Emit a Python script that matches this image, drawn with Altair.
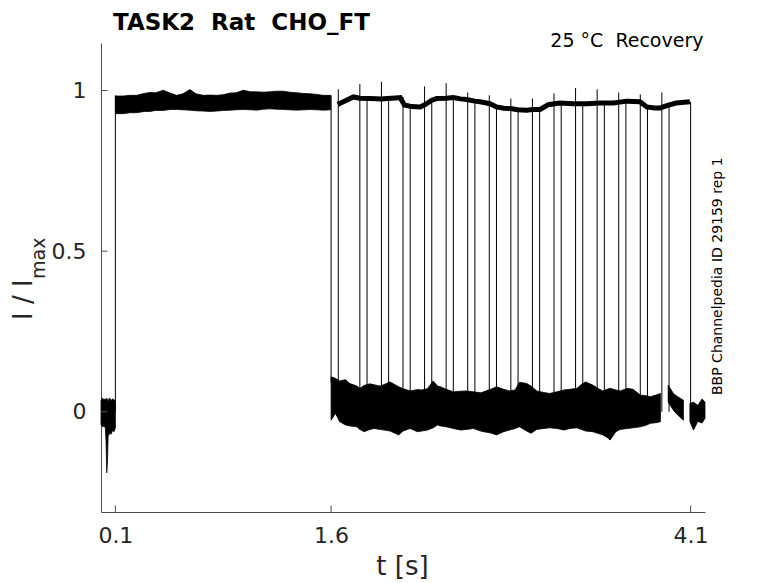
import altair as alt
import pandas as pd

# ---------------- text ----------------
NB = "\u00a0"
TITLE = "TASK2" + NB + NB + "Rat" + NB + NB + "CHO_FT"
CONDITION = "25" + NB + "°C" + NB + NB + "Recovery"
SIDE_NOTE = "BBP Channelpedia ID 29159 rep 1"
X_TITLE = "t [s]"
Y_TITLE_MAIN = "I / I"
Y_TITLE_SUB = "max"

X_TICKS = [0.1, 1.6, 4.1]
Y_TICKS = [0, 0.5, 1]
X_DOMAIN = [0, 4.2]
Y_DOMAIN = [-0.312, 1.148]

# ---------------- data ----------------
# holding current before the conditioning pulse (envelope of the sweeps)
pre_t = [0.0, 0.01, 0.02, 0.03, 0.035, 0.04, 0.045, 0.05, 0.055, 0.06, 0.07, 0.08, 0.09, 0.1]
pre_hi = [0.035, 0.043, 0.038, 0.040, 0.036, 0.042, 0.038, 0.030, 0.040, 0.043, 0.035, 0.040, 0.038, 0.032]
pre_lo = [-0.040, -0.047, -0.045, -0.050, -0.090, -0.190, -0.150, -0.070, -0.073, -0.065, -0.070, -0.058, -0.062, -0.050]

# conditioning pulse envelope (0.1 s - 1.6 s)
cond_t = [0.10, 0.155, 0.20, 0.248, 0.30, 0.341, 0.38, 0.434, 0.48, 0.526, 0.57, 0.619, 0.66,
          0.712, 0.76, 0.804, 0.85, 0.897, 0.94, 0.99, 1.04, 1.082, 1.13, 1.175, 1.22, 1.268,
          1.31, 1.36, 1.41, 1.453, 1.50, 1.546, 1.597]
cond_hi = [0.983, 0.983, 0.985, 0.985, 0.991, 0.994, 0.993, 1.001, 0.992, 0.985, 0.990, 1.003, 0.990,
           0.985, 0.986, 0.985, 0.987, 0.992, 0.993, 1.001, 0.996, 0.996, 0.995, 0.996, 0.998, 0.998,
           0.995, 0.993, 0.991, 0.990, 0.988, 0.985, 0.985]
cond_lo = [0.928, 0.928, 0.931, 0.931, 0.935, 0.935, 0.938, 0.938, 0.941, 0.941, 0.940, 0.939, 0.937,
           0.936, 0.935, 0.936, 0.938, 0.939, 0.940, 0.941, 0.940, 0.939, 0.942, 0.943, 0.942, 0.941,
           0.940, 0.939, 0.940, 0.941, 0.940, 0.939, 0.940]

# inactivated (low) current band of the sweeps not yet recovered
low_t = [1.60, 1.63, 1.66, 1.70, 1.73, 1.78, 1.80, 1.83, 1.87, 1.90, 1.94, 1.97, 2.01, 2.07, 2.10,
         2.15, 2.20, 2.23, 2.27, 2.31, 2.34, 2.36, 2.40, 2.45, 2.50, 2.54, 2.59, 2.64, 2.66, 2.71,
         2.75, 2.80, 2.84, 2.88, 2.91, 2.96, 2.99, 3.03, 3.08, 3.12, 3.17, 3.22, 3.26, 3.31, 3.34,
         3.37, 3.42, 3.46, 3.49, 3.52, 3.54, 3.58, 3.61, 3.66, 3.70, 3.75, 3.79, 3.82, 3.86, 3.89]
low_hi = [0.109, 0.104, 0.096, 0.100, 0.088, 0.080, 0.073, 0.082, 0.087, 0.084, 0.080, 0.085, 0.093, 0.078, 0.072,
          0.065, 0.069, 0.068, 0.072, 0.096, 0.080, 0.078, 0.070, 0.062, 0.064, 0.065, 0.062, 0.059, 0.062, 0.070,
          0.078, 0.070, 0.065, 0.068, 0.092, 0.088, 0.080, 0.065, 0.060, 0.057, 0.062, 0.068, 0.070, 0.073, 0.085,
          0.093, 0.083, 0.072, 0.065, 0.070, 0.073, 0.068, 0.065, 0.073, 0.070, 0.052, 0.050, 0.047, 0.052, 0.057]
low_lo = [-0.026, -0.005, -0.031, -0.041, -0.044, -0.047, -0.055, -0.062, -0.055, -0.052, -0.055, -0.057, -0.060, -0.072, -0.060,
          -0.052, -0.062, -0.060, -0.057, -0.050, -0.041, -0.044, -0.047, -0.052, -0.057, -0.055, -0.052, -0.060, -0.062, -0.066,
          -0.072, -0.062, -0.057, -0.052, -0.047, -0.060, -0.067, -0.055, -0.052, -0.050, -0.052, -0.057, -0.052, -0.050, -0.055,
          -0.060, -0.062, -0.068, -0.072, -0.080, -0.088, -0.062, -0.055, -0.052, -0.050, -0.047, -0.042, -0.036, -0.034, -0.031]

# two short low segments near the end
tailA_t = [3.944, 3.98, 4.01, 4.05]
tailA_hi = [0.083, 0.057, 0.047, 0.036]
tailA_lo = [0.030, 0.005, -0.010, -0.026]
tailB_t = [4.095, 4.12, 4.15, 4.18, 4.20]
tailB_hi = [0.026, 0.030, 0.020, 0.040, 0.030]
tailB_lo = [-0.031, -0.057, -0.030, -0.035, -0.020]

# recovered current trace
rec_t = [1.646, 1.70, 1.755, 1.80, 1.87, 1.95, 1.99, 2.05, 2.08, 2.11, 2.16, 2.22, 2.26, 2.30, 2.334,
         2.40, 2.45, 2.50, 2.543, 2.60, 2.636, 2.705, 2.75, 2.80, 2.844, 2.90, 2.96, 3.00, 3.053, 3.11,
         3.19, 3.25, 3.284, 3.378, 3.47, 3.563, 3.656, 3.748, 3.795, 3.85, 3.888, 3.94, 4.00, 4.095]
rec_v = [0.957, 0.968, 0.980, 0.976, 0.975, 0.974, 0.975, 0.977, 0.978, 0.955, 0.950, 0.949, 0.958, 0.970, 0.975,
         0.976, 0.978, 0.974, 0.972, 0.967, 0.965, 0.959, 0.949, 0.945, 0.944, 0.940, 0.939, 0.941, 0.941, 0.956,
         0.961, 0.960, 0.959, 0.959, 0.961, 0.961, 0.967, 0.965, 0.949, 0.946, 0.946, 0.954, 0.961, 0.965]

# step transitions (recovery test pulses)
rise_t = [1.65, 1.80, 1.95, 2.10, 2.25, 2.40, 2.55, 2.70, 2.85, 3.00, 3.15, 3.30, 3.45, 3.60, 3.75, 3.90]
rise_top = [1.004, 1.020, 1.027, 0.980, 1.013, 1.023, 0.994, 0.985, 0.975, 0.975, 0.991, 1.008, 1.004, 0.994, 0.988, 0.994]
fall_t = [1.85, 2.00, 2.15, 2.30, 2.45, 2.60, 2.75, 2.90, 3.05, 3.20, 3.35, 3.50, 3.65, 3.80, 3.95, 4.10]
fall_top = [0.975, 0.975, 0.951, 0.970, 0.978, 0.967, 0.949, 0.940, 0.941, 0.961, 0.959, 0.961, 0.967, 0.949, 0.954, 0.965]
edge_t = [0.1, 1.6]
edge_lo = [0.0, 0.09]
edge_hi = [0.985, 0.985]

# ---------------- tables ----------------
band_tables = [
    pd.DataFrame({"t": pre_t, "hi": pre_hi, "lo": pre_lo}),
    pd.DataFrame({"t": cond_t, "hi": cond_hi, "lo": cond_lo}),
    pd.DataFrame({"t": low_t, "hi": low_hi, "lo": low_lo}),
    pd.DataFrame({"t": tailA_t, "hi": tailA_hi, "lo": tailA_lo}),
    pd.DataFrame({"t": tailB_t, "hi": tailB_hi, "lo": tailB_lo}),
]

trace = pd.DataFrame({"t": rec_t, "v": rec_v})

steps = pd.concat([
    pd.DataFrame({"t": rise_t, "lo": [0.0] * len(rise_t), "hi": rise_top}),
    pd.DataFrame({"t": fall_t, "lo": [0.0] * len(fall_t), "hi": fall_top}),
    pd.DataFrame({"t": edge_t, "lo": edge_lo, "hi": edge_hi}),
], ignore_index=True)

xticks = pd.DataFrame({"t": X_TICKS})
yticks = pd.DataFrame({"v": Y_TICKS})

# ---------------- encodings ----------------
W, H = 604, 469
AXIS_COLOR = "#4d4d4d"
LABEL_COLOR = "#262626"
FONT = "DejaVu Sans"

xscale = alt.Scale(domain=X_DOMAIN, nice=False, zero=False)
yscale = alt.Scale(domain=Y_DOMAIN, nice=False, zero=False)
xaxis = alt.Axis(title="", values=X_TICKS, labelExpr="format(datum.value, '.2~f')", grid=False,
                 ticks=False, tickSize=0, labelPadding=30.7, labelBaseline="alphabetic",
                 labelFlush=False, labelOverlap=False,
                 labelFontSize=22, labelColor=LABEL_COLOR, labelFont=FONT,
                 domainColor=AXIS_COLOR, domainWidth=1)
yaxis = alt.Axis(title="", values=Y_TICKS, labelExpr="format(datum.value, '.2~f')", grid=False,
                 ticks=False, tickSize=0, labelPadding=15, labelFlush=False, labelOverlap=False,
                 labelFontSize=22, labelColor=LABEL_COLOR, labelFont=FONT,
                 domainColor=AXIS_COLOR, domainWidth=1)


def X(field):
    return alt.X(field, type="quantitative", scale=xscale, axis=xaxis)


def Y(field):
    return alt.Y(field, type="quantitative", scale=yscale, axis=yaxis, stack=False)


band_layers = [
    alt.Chart(tbl).mark_area(color="black", stroke="black", strokeWidth=0.8, opacity=1).encode(
        x=X("t"), y=Y("lo"), y2="hi"
    )
    for tbl in band_tables
]

trace_layer = alt.Chart(trace).mark_line(color="black", strokeWidth=5).encode(
    x=X("t"), y=Y("v")
)

step_layer = alt.Chart(steps).mark_rule(color="black", strokeWidth=1).encode(
    x=X("t"), y=Y("lo"), y2="hi"
)

xtick_layer = alt.Chart(xticks).mark_rule(color=AXIS_COLOR, strokeWidth=1).encode(
    x=X("t"), y=alt.value(H), y2=alt.value(H - 6.5)
)
ytick_layer = alt.Chart(yticks).mark_rule(color=AXIS_COLOR, strokeWidth=1).encode(
    y=Y("v"), x=alt.value(0), x2=alt.value(6.5)
)


def label(text, x, y, size, align="left", angle=0, weight="normal", color="black"):
    return alt.Chart(pd.DataFrame({"label": [text]})).mark_text(
        align=align, baseline="alphabetic", fontSize=size, font=FONT, fontWeight=weight,
        angle=angle, color=color
    ).encode(x=alt.value(x), y=alt.value(y), text="label:N")


texts = [
    label(TITLE, 12, -13.5, 23, weight="bold"),
    label(CONDITION, 602.5, 3.7, 19, align="right"),
    label(SIDE_NOTE, 621, 352, 14, angle=270),
    label(X_TITLE, 301.5, 531.9, 26, align="center", color=LABEL_COLOR),
    label(Y_TITLE_MAIN, -68.7, 277, 26, angle=270, color=LABEL_COLOR),
    label(Y_TITLE_SUB, -55.7, 236, 19, angle=270, color=LABEL_COLOR),
]

chart = alt.layer(
    *band_layers, trace_layer, step_layer, xtick_layer, ytick_layer, *texts
).properties(
    width=W, height=H,
    autosize=alt.AutoSizeParams(type="none"),
    padding={"left": 93, "top": 35, "right": 65, "bottom": 71},
).configure(background="white").configure_view(stroke=None)

chart.save("out.html", embed_options={"renderer": "svg", "actions": False})
